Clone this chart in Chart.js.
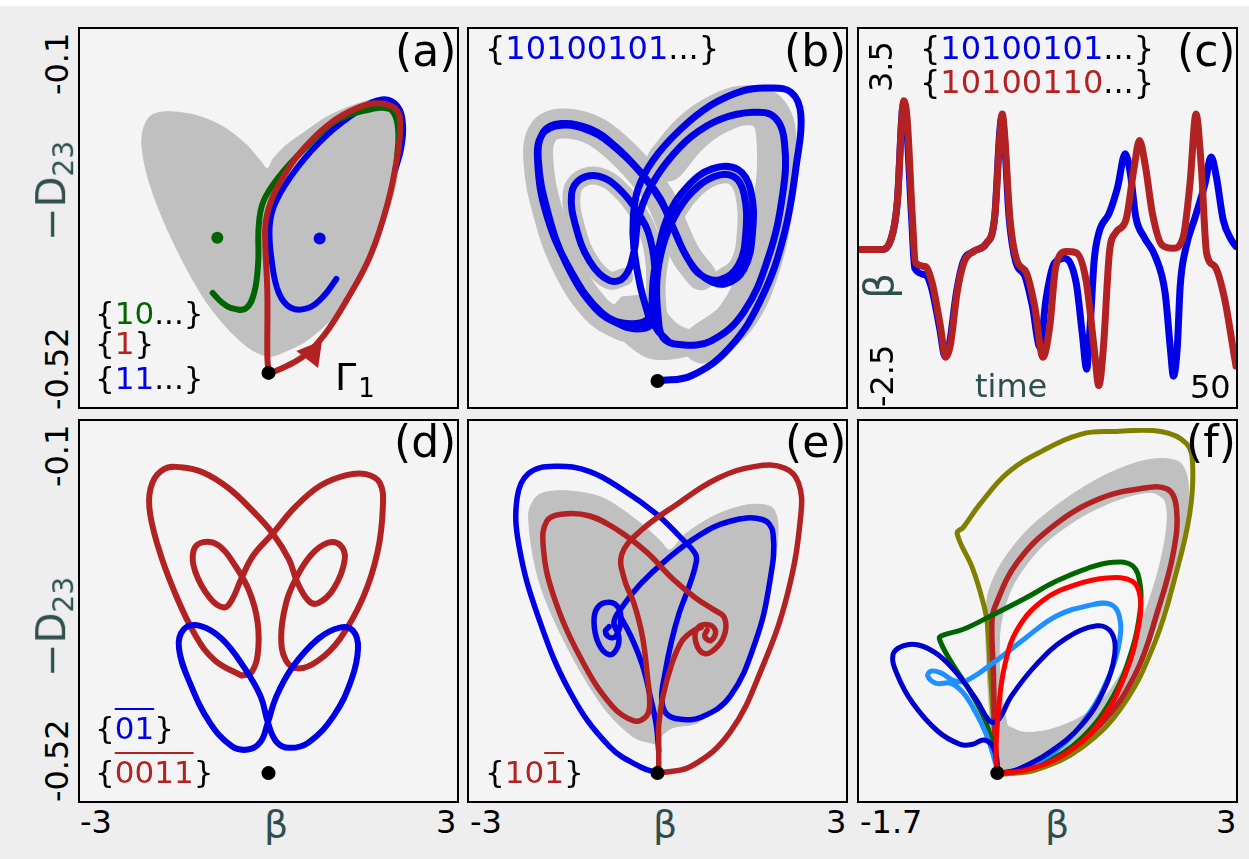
<!DOCTYPE html>
<html lang="en">
<head>
<meta charset="UTF-8" />
<title>Symbolic orbits</title>
<script src="https://cdn.jsdelivr.net/npm/chart.js"></script>
<style>
  body { margin: 0; width: 1249px; height: 859px; background: #eeeeee; position: relative; overflow: hidden; font-family: "DejaVu Sans", sans-serif; }
  .topband { position: absolute; left: 0; top: 0; width: 1249px; height: 6px; background: #fff; }
  .panel { position: absolute; border: 2px solid #000; background: #f4f4f4; }
  .panel canvas { display: block; }
  .t { position: absolute; white-space: nowrap; line-height: 1; color: #000; }
</style>
</head>
<body>
<div class="topband"></div>
<script>
// colours
const RED = '#b22222', BLUE = '#0000e6', GREEN = '#006400', GRAY = '#c0c0c0', SLATE = '#2f4f4f';
const OLIVE = '#808000', BRIGHT = '#ff0000', SKY = '#1e90ff', NAVY = '#0000cd';

// tick labels
const betaTicks = ['-3', '3'];
const betaTicksF = ['-1.7', '3'];
const dTicks = ['-0.1', '-0.52'];
const cTicks = ['3.5', '-2.5'];
const cTimeTick = '50';

// ---- (a) [beta, -D23]
const aGray = [[0.08,-0.238],[0.30,-0.222],[0.60,-0.207],[1.02,-0.187],[1.56,-0.171],[1.97,-0.165],[2.24,-0.174],[2.35,-0.191],[2.32,-0.224],[2.19,-0.276],[1.92,-0.334],[1.56,-0.386],[1.13,-0.430],[0.66,-0.459],[0.29,-0.472],[0.02,-0.478],[-0.29,-0.470],[-0.66,-0.448],[-1.08,-0.412],[-1.51,-0.360],[-1.88,-0.304],[-2.10,-0.260],[-2.20,-0.224],[-2.18,-0.203],[-2.05,-0.186],[-1.77,-0.181],[-1.29,-0.185],[-0.82,-0.198],[-0.40,-0.220],[-0.15,-0.240],[-0.02,-0.250],[0.08,-0.238]];
const aRed = [[0,-0.498],[-0.02,-0.478],[-0.02,-0.401],[-0.06,-0.327],[-0.02,-0.304],[0.13,-0.276],[0.50,-0.235],[1.02,-0.198],[1.56,-0.176],[1.97,-0.171],[2.24,-0.180],[2.29,-0.202],[2.24,-0.235],[2.08,-0.290],[1.77,-0.356],[1.34,-0.412],[0.97,-0.452],[0.66,-0.475],[0.34,-0.489],[0.07,-0.497],[0,-0.498]];
const aGreen = [[-0.97,-0.401],[-0.82,-0.412],[-0.66,-0.419],[-0.40,-0.420],[-0.25,-0.401],[-0.18,-0.364],[-0.17,-0.320],[-0.09,-0.290],[0.18,-0.260],[0.61,-0.227],[1.13,-0.194],[1.65,-0.180],[2.08,-0.177],[2.21,-0.187],[2.26,-0.209],[2.23,-0.240]];
const aBlue = [[1.18,-0.384],[0.97,-0.404],[0.70,-0.419],[0.39,-0.419],[0.18,-0.401],[0.06,-0.364],[0.02,-0.320],[0.13,-0.290],[0.50,-0.249],[1.02,-0.209],[1.56,-0.180],[1.97,-0.166],[2.24,-0.174],[2.34,-0.198],[2.30,-0.228],[2.20,-0.252]];
const aFixedL = [-0.89,-0.334], aFixedR = [0.89,-0.335], origin = [0,-0.498], aArrow = [0.76,-0.474];

// ---- (b)
const bOuterR = [[0.01,-0.498],[0.56,-0.492],[1.20,-0.459],[1.73,-0.401],[2.10,-0.327],[2.30,-0.246],[2.37,-0.191],[2.21,-0.165],[1.83,-0.160],[1.42,-0.163],[0.88,-0.180],[0.36,-0.209],[-0.07,-0.243],[-0.32,-0.276],[-0.40,-0.309],[-0.39,-0.345],[-0.28,-0.390],[-0.15,-0.423],[-0.12,-0.434]];
const bOuterL = [[-0.36,-0.438],[-0.59,-0.434],[-1.02,-0.415],[-1.50,-0.364],[-1.81,-0.304],[-1.97,-0.243],[-1.89,-0.211],[-1.59,-0.201],[-1.12,-0.207],[-0.70,-0.227],[-0.28,-0.257],[0.04,-0.287],[0.25,-0.320],[0.47,-0.353],[0.72,-0.376]];
const bInnerR = [[1.04,-0.381],[1.34,-0.364],[1.46,-0.327],[1.43,-0.282],[1.26,-0.262],[0.94,-0.262],[0.56,-0.281],[0.28,-0.309],[0.09,-0.342],[-0.01,-0.382],[0.01,-0.423],[0.09,-0.448],[0.36,-0.456]];
const bMidR = [[0.88,-0.452],[1.42,-0.419],[1.83,-0.356],[2.07,-0.282],[2.10,-0.224],[1.94,-0.194],[1.58,-0.188],[1.04,-0.196],[0.56,-0.216],[0.15,-0.246],[-0.15,-0.279],[-0.32,-0.312],[-0.39,-0.349]];
const bInnerL = [[-0.55,-0.378],[-0.80,-0.382],[-1.12,-0.360],[-1.35,-0.320],[-1.42,-0.282],[-1.27,-0.265],[-0.96,-0.262],[-0.64,-0.276],[-0.32,-0.304],[-0.12,-0.334],[-0.04,-0.378],[-0.12,-0.423],[-0.44,-0.432]];
const bOuterL2 = [[-0.91,-0.420],[-1.44,-0.370],[-1.83,-0.307],[-1.98,-0.246],[-1.91,-0.214],[-1.59,-0.203],[-1.10,-0.210],[-0.66,-0.231],[-0.25,-0.260],[0.06,-0.291],[0.29,-0.326],[0.51,-0.358],[0.80,-0.380]];
const bInnerR2 = [[1.12,-0.386],[1.43,-0.369],[1.57,-0.327],[1.54,-0.278],[1.33,-0.254],[0.91,-0.253],[0.49,-0.274],[0.18,-0.307],[0.02,-0.345],[-0.08,-0.390],[-0.04,-0.434],[0.17,-0.452]];
const bGrayR = [[0.75,-0.455],[1.30,-0.425],[1.70,-0.365],[1.92,-0.290],[1.97,-0.225],[1.85,-0.190],[1.50,-0.180],[1.00,-0.190],[0.55,-0.212],[0.15,-0.245]];
const bGrayBottom = [[-0.59,-0.401],[-0.12,-0.401],[0.36,-0.434],[0.99,-0.450],[0.51,-0.469],[-0.12,-0.472],[-0.59,-0.450],[-0.83,-0.423],[-0.59,-0.401]];

// ---- (c) [time, beta]
const cBlue = [[0,0.0],[2.9,0.0],[4.2,0.15],[5.1,0.78],[5.7,2.15],[5.9,2.3],[6.3,2.0],[7.0,0.45],[7.4,-0.3],[8.8,-0.4],[9.6,-0.6],[10.7,-1.25],[11.4,-1.7],[12.0,-1.5],[12.9,-0.7],[13.8,-0.2],[15.2,-0.03],[16.9,0.10],[18.0,0.52],[18.65,1.84],[18.95,2.12],[19.25,1.84],[19.9,0.52],[20.8,-0.2],[22.0,-0.42],[23.0,-0.9],[24.0,-1.55],[24.8,-0.79],[25.7,-0.27],[26.6,-0.16],[27.2,-0.14],[28.8,-0.53],[29.6,-1.32],[30.2,-1.90],[30.6,-1.32],[31.2,-0.16],[31.8,0.26],[33.2,0.58],[34.3,0.99],[35.3,1.52],[36.0,1.20],[36.7,0.52],[37.8,0.20],[39.3,-0.11],[40.6,-0.69],[41.3,-1.58],[41.7,-2.01],[42.2,-1.58],[42.6,-0.58],[43.3,0.0],[44.6,0.52],[45.9,1.05],[46.7,1.47],[47.4,1.15],[48.3,0.47],[49.4,0.15],[50,0.05]];
const cRed = [[0,0.0],[2.9,0.0],[4.2,0.15],[5.1,0.78],[5.75,2.21],[5.96,2.36],[6.4,2.05],[7.07,0.52],[7.5,-0.21],[8.8,-0.27],[9.7,-0.53],[10.8,-1.22],[11.5,-1.71],[12.1,-1.53],[13.0,-0.69],[13.9,-0.21],[15.2,-0.03],[16.9,0.10],[18.0,0.52],[18.7,1.84],[19.0,2.15],[19.3,1.84],[20.0,0.52],[20.9,-0.16],[22.2,-0.37],[23.3,-0.90],[24.4,-1.71],[25.3,-1.22],[26.1,-0.27],[27.5,-0.03],[28.8,-0.05],[30.1,-0.48],[31.2,-1.58],[31.8,-2.16],[32.4,-1.58],[33.2,-0.06],[34.0,0.26],[35.4,0.47],[36.5,1.31],[37.2,1.73],[38.0,1.31],[38.9,0.58],[40.2,0.07],[41.7,0.02],[43.0,0.20],[43.9,1.05],[44.7,2.15],[45.4,1.31],[46.1,-0.06],[47.2,-0.27],[48.5,-0.79],[49.8,-1.71],[50,-1.85]];

// ---- (d)
const dRed = [[-0.45,-0.384],[-0.88,-0.367],[-1.20,-0.339],[-1.56,-0.287],[-1.83,-0.235],[-1.97,-0.191],[-1.92,-0.163],[-1.72,-0.147],[-1.45,-0.145],[-1.08,-0.151],[-0.66,-0.169],[-0.25,-0.196],[0.07,-0.221],[0.34,-0.251],[0.47,-0.276],[0.66,-0.298],[0.82,-0.301],[1.08,-0.284],[1.26,-0.251],[1.18,-0.234],[0.97,-0.232],[0.70,-0.246],[0.45,-0.273],[0.29,-0.301],[0.21,-0.339],[0.29,-0.367],[0.50,-0.376],[0.82,-0.367],[1.18,-0.342],[1.56,-0.295],[1.80,-0.243],[1.89,-0.191],[1.84,-0.163],[1.61,-0.153],[1.29,-0.154],[0.86,-0.166],[0.45,-0.190],[0.07,-0.221],[-0.25,-0.246],[-0.45,-0.273],[-0.61,-0.298],[-0.74,-0.306],[-0.97,-0.295],[-1.21,-0.265],[-1.24,-0.241],[-1.08,-0.231],[-0.82,-0.235],[-0.56,-0.257],[-0.32,-0.287],[-0.18,-0.323],[-0.18,-0.361],[-0.29,-0.381],[-0.45,-0.384]];
const dBlue = [[-0.01,-0.438],[-0.13,-0.460],[-0.34,-0.469],[-0.61,-0.465],[-0.97,-0.438],[-1.29,-0.394],[-1.48,-0.353],[-1.40,-0.331],[-1.13,-0.327],[-0.77,-0.342],[-0.40,-0.375],[-0.13,-0.408],[-0.01,-0.438],[0.13,-0.460],[0.34,-0.467],[0.66,-0.461],[1.08,-0.430],[1.37,-0.389],[1.48,-0.353],[1.40,-0.333],[1.18,-0.329],[0.82,-0.342],[0.39,-0.375],[0.13,-0.408],[-0.01,-0.438]];
const dOrigin = [0,-0.496];

// ---- (e)
const eGray = [[-0.01,-0.463],[-0.39,-0.455],[-0.91,-0.419],[-1.54,-0.345],[-1.97,-0.273],[-2.13,-0.199],[-1.97,-0.177],[-1.54,-0.172],[-0.91,-0.180],[-0.32,-0.207],[0.04,-0.229],[0.20,-0.240],[0.47,-0.221],[0.99,-0.199],[1.51,-0.188],[1.89,-0.191],[1.99,-0.210],[1.94,-0.254],[1.67,-0.328],[1.26,-0.400],[0.67,-0.438],[0.25,-0.444],[0.04,-0.455],[-0.01,-0.463]];
const eBlue1 = [[0.02,-0.496],[-0.28,-0.489],[-0.80,-0.465],[-1.43,-0.405],[-1.97,-0.317],[-2.29,-0.235],[-2.32,-0.180],[-2.13,-0.152],[-1.70,-0.144],[-1.12,-0.150],[-0.55,-0.172],[-0.01,-0.199],[0.36,-0.224],[0.63,-0.245],[0.63,-0.257],[0.51,-0.284],[0.36,-0.312],[0.23,-0.345],[0.12,-0.383],[0.07,-0.411],[0.15,-0.428],[0.36,-0.434],[0.72,-0.432],[1.20,-0.408],[1.62,-0.345],[1.85,-0.279],[1.91,-0.221],[1.73,-0.205],[1.20,-0.207],[0.67,-0.224],[0.15,-0.251],[-0.28,-0.279],[-0.59,-0.306],[-0.72,-0.323],[-0.64,-0.339],[-0.67,-0.353],[-0.80,-0.360],[-0.97,-0.348],[-1.05,-0.323],[-0.99,-0.306],[-0.80,-0.300],[-0.64,-0.307],[-0.61,-0.323],[-0.69,-0.339],[-0.80,-0.340],[-0.86,-0.333],[-0.80,-0.328]];
const eBlue2 = [[-0.64,-0.313],[-0.44,-0.339],[-0.25,-0.372],[-0.12,-0.408],[-0.02,-0.441],[0.02,-0.471]];
const eRed1 = [[0.02,-0.496],[0.56,-0.488],[1.20,-0.449],[1.73,-0.375],[2.15,-0.290],[2.37,-0.199],[2.33,-0.163],[2.10,-0.146],[1.62,-0.144],[0.99,-0.158],[0.31,-0.188],[-0.28,-0.218],[-0.59,-0.245],[-0.55,-0.273],[-0.39,-0.301],[-0.25,-0.339],[-0.17,-0.383],[-0.13,-0.419],[-0.20,-0.432],[-0.39,-0.436],[-0.75,-0.419],[-1.27,-0.364],[-1.73,-0.290],[-1.89,-0.235],[-1.83,-0.207],[-1.59,-0.199],[-1.12,-0.201],[-0.64,-0.218],[-0.17,-0.243],[0.25,-0.273],[0.63,-0.295],[0.94,-0.309],[1.10,-0.317],[1.12,-0.334],[0.99,-0.351],[0.78,-0.359],[0.63,-0.345],[0.67,-0.329],[0.86,-0.326],[0.96,-0.334],[0.88,-0.344],[0.78,-0.339],[0.82,-0.332]];
const eRed2 = [[0.02,-0.496],[0.02,-0.455],[0.02,-0.441],[0.09,-0.408],[0.23,-0.372],[0.40,-0.345],[0.59,-0.333],[0.72,-0.329]];

// ---- (f)
const fGrayOuter = [[0.02,-0.495],[-0.07,-0.456],[-0.13,-0.382],[-0.15,-0.316],[-0.11,-0.287],[0.06,-0.254],[0.39,-0.217],[0.84,-0.184],[1.33,-0.157],[1.79,-0.140],[2.12,-0.135],[2.37,-0.140],[2.47,-0.162],[2.45,-0.206],[2.30,-0.261],[2.08,-0.324],[1.79,-0.382],[1.46,-0.426],[1.05,-0.463],[0.59,-0.487],[0.18,-0.495],[0.02,-0.495]];
const fGrayHole = [[0.14,-0.441],[0.08,-0.412],[0.04,-0.368],[0.06,-0.324],[0.22,-0.280],[0.59,-0.236],[1.09,-0.203],[1.58,-0.183],[1.99,-0.175],[2.16,-0.184],[2.18,-0.214],[2.08,-0.261],[1.91,-0.309],[1.71,-0.360],[1.42,-0.404],[1.09,-0.430],[0.68,-0.445],[0.34,-0.448],[0.14,-0.441]];
const fOlive = [[0.01,-0.496],[-0.03,-0.456],[-0.09,-0.382],[-0.13,-0.324],[-0.19,-0.298],[-0.32,-0.261],[-0.52,-0.221],[-0.44,-0.214],[-0.23,-0.188],[0.14,-0.151],[0.59,-0.126],[1.09,-0.107],[1.50,-0.104],[2.12,-0.104],[2.45,-0.118],[2.53,-0.144],[2.49,-0.199],[2.32,-0.265],[2.04,-0.346],[1.62,-0.419],[1.09,-0.467],[0.51,-0.492],[0.10,-0.497],[0.01,-0.496]];
const fDarkRed = [[0.01,-0.496],[-0.03,-0.456],[-0.05,-0.382],[-0.07,-0.324],[-0.03,-0.305],[0.26,-0.254],[0.76,-0.210],[1.33,-0.181],[1.83,-0.170],[2.20,-0.170],[2.32,-0.192],[2.28,-0.243],[2.08,-0.309],[1.79,-0.382],[1.33,-0.441],[0.76,-0.478],[0.26,-0.494],[0.01,-0.496]];
const fGreen = [[0.01,-0.496],[-0.03,-0.474],[-0.15,-0.437],[-0.36,-0.401],[-0.60,-0.368],[-0.75,-0.342],[-0.71,-0.338],[-0.44,-0.331],[-0.07,-0.315],[0.35,-0.296],[0.76,-0.276],[1.17,-0.261],[1.50,-0.254],[1.75,-0.258],[1.85,-0.280],[1.85,-0.309],[1.75,-0.353],[1.50,-0.408],[1.09,-0.456],[0.59,-0.485],[0.14,-0.495]];
const fRed = [[0.01,-0.496],[-0.02,-0.478],[0.02,-0.419],[0.10,-0.371],[0.26,-0.331],[0.59,-0.298],[1.01,-0.280],[1.42,-0.272],[1.75,-0.276],[1.85,-0.294],[1.83,-0.327],[1.66,-0.382],[1.33,-0.437],[0.88,-0.474],[0.39,-0.492],[0.03,-0.496]];
const fSky = [[0.01,-0.496],[-0.07,-0.470],[-0.15,-0.450],[-0.27,-0.428],[-0.44,-0.404],[-0.60,-0.393],[-0.79,-0.393],[-0.90,-0.385],[-0.86,-0.379],[-0.73,-0.381],[-0.56,-0.390],[-0.40,-0.390],[-0.03,-0.368],[0.35,-0.342],[0.76,-0.316],[1.17,-0.304],[1.46,-0.302],[1.58,-0.316],[1.58,-0.346],[1.46,-0.382],[1.17,-0.430],[0.76,-0.470],[0.30,-0.491],[0.03,-0.496]];
const fNavy = [[0.01,-0.496],[-0.05,-0.467],[-0.17,-0.458],[-0.32,-0.463],[-0.48,-0.463],[-0.77,-0.448],[-1.10,-0.415],[-1.30,-0.382],[-1.35,-0.360],[-1.22,-0.350],[-1.02,-0.349],[-0.77,-0.360],[-0.52,-0.382],[-0.27,-0.412],[-0.09,-0.437],[0.02,-0.434],[0.18,-0.408],[0.51,-0.371],[0.88,-0.342],[1.29,-0.327],[1.48,-0.335],[1.52,-0.360],[1.38,-0.401],[1.09,-0.441],[0.68,-0.472],[0.26,-0.492],[0.03,-0.496]];

Chart.defaults.animation = false;

function pts(arr) { return arr.map(p => ({ x: p[0], y: p[1] })); }
function curve(arr, color, width, more) {
  return Object.assign({ data: pts(arr), borderColor: color, borderWidth: width, pointRadius: 0,
    tension: 0.4, fill: false, borderCapStyle: 'round', borderJoinStyle: 'round' }, more || {});
}
function blob(arr, color) {
  return { data: pts(arr), borderColor: color, borderWidth: 1, backgroundColor: color,
    fill: 'shape', pointRadius: 0, tension: 0.3 };
}
function dot(p, color, r, more) {
  return Object.assign({ data: pts([p]), showLine: false, pointRadius: r, pointBackgroundColor: color,
    pointBorderWidth: 0, pointBorderColor: color }, more || {});
}

// layers are listed bottom to top
function panel(left, top, w, h, xr, yr, layers) {
  const div = document.createElement('div');
  div.className = 'panel';
  div.style.left = left + 'px';
  div.style.top = top + 'px';
  div.style.width = w + 'px';
  div.style.height = h + 'px';
  const cv = document.createElement('canvas');
  cv.width = w; cv.height = h;
  div.appendChild(cv);
  document.body.appendChild(div);
  new Chart(cv, {
    type: 'line',
    data: { datasets: layers.slice().reverse() },
    options: {
      responsive: false,
      events: [],
      layout: { padding: 0 },
      plugins: { legend: { display: false }, tooltip: { enabled: false } },
      scales: {
        x: { type: 'linear', min: xr[0], max: xr[1], display: false },
        y: { type: 'linear', min: yr[0], max: yr[1], display: false }
      }
    }
  });
}

const BR = [-3, 3], DR = [-0.52, -0.1];

panel(78, 27, 377, 378, BR, DR, [
  blob(aGray, GRAY),
  curve(aBlue, BLUE, 6),
  curve(aGreen, GREEN, 6),
  curve(aRed, RED, 6),
  dot(aArrow, RED, 16, { pointStyle: 'triangle', rotation: 38 }),
  dot(aFixedL, GREEN, 6),
  dot(aFixedR, BLUE, 6),
  dot(origin, '#000', 7)
]);

panel(467, 27, 377, 378, BR, DR, [
  blob(bGrayBottom, GRAY),
  curve(bOuterL, GRAY, 30),
  curve(bGrayR, GRAY, 40),
  curve(bInnerL, GRAY, 18),
  curve(bInnerR, GRAY, 18),
  curve([].concat(bOuterR, bOuterL, bInnerR, bMidR, bInnerL, bOuterL2, bInnerR2), BLUE, 7),
  dot(origin, '#000', 7)
]);

panel(857, 27, 377, 378, [0, 50], [-2.5, 3.5], [
  curve(cBlue, BLUE, 7, { cubicInterpolationMode: 'monotone' }),
  curve(cRed, RED, 7, { cubicInterpolationMode: 'monotone' })
]);

panel(78, 419, 377, 380, BR, DR, [
  curve(dRed, RED, 6),
  curve(dBlue, BLUE, 6),
  dot(dOrigin, '#000', 7)
]);

panel(467, 419, 377, 380, BR, DR, [
  blob(eGray, GRAY),
  curve(eBlue2, BLUE, 5.5),
  curve(eBlue1, BLUE, 5.5),
  curve(eRed2, RED, 5.5),
  curve(eRed1, RED, 5.5),
  dot(dOrigin, '#000', 7)
]);

panel(857, 419, 377, 380, [-1.7, 3], DR, [
  blob(fGrayOuter, GRAY),
  blob(fGrayHole, '#f6f6f6'),
  curve(fOlive, OLIVE, 5),
  curve(fDarkRed, RED, 5.5),
  curve(fGreen, GREEN, 5),
  curve(fSky, SKY, 5),
  curve(fNavy, NAVY, 5),
  curve(fRed, BRIGHT, 5),
  dot(dOrigin, '#000', 7)
]);

// ---- text
const OVER = 'text-decoration:overline;text-decoration-thickness:2px;';
const SUB = 'font-size:28px;position:relative;top:8px;';
function label(x, y, size, parts, opt) {
  opt = opt || {};
  const el = document.createElement('div');
  el.className = 't';
  el.style.fontSize = size + 'px';
  parts.forEach(p => {
    const s = document.createElement('span');
    s.textContent = p[0];
    if (p[1]) s.style.color = p[1];
    if (p[2]) s.style.cssText += p[2];
    el.appendChild(s);
  });
  document.body.appendChild(el);
  const base = 0.846 * size;
  let left = x;
  if (opt.align === 'right') left = x - el.offsetWidth;
  if (opt.align === 'center') left = x - el.offsetWidth / 2;
  el.style.left = left + 'px';
  el.style.top = (y - base) + 'px';
  if (opt.rotate) {
    el.style.transformOrigin = '0 ' + base + 'px';
    el.style.transform = 'rotate(-90deg)';
  }
}

// y axes, rows
[0, 392].forEach((dy, i) => {
  label(68, 95 + dy, 32, [[dTicks[0]]], { rotate: true });
  label(68, 410 + dy, 32, [[dTicks[1]]], { rotate: true });
  label(65, i ? 677 : 241, 40, [['−D', SLATE], ['23', SLATE, SUB]], { rotate: true });
});
// (c) axes
label(892, 92, 32, [[cTicks[0]]], { rotate: true });
label(893, 407, 32, [[cTicks[1]]], { rotate: true });
label(893, 299, 40, [['β', SLATE]], { rotate: true });
label(975, 397, 32, [['time', SLATE]]);
label(1231, 398, 32, [[cTimeTick]], { align: 'right' });
// bottom x axes
label(80, 833, 32, [[betaTicks[0]]]);
label(456, 833, 32, [[betaTicks[1]]], { align: 'right' });
label(470, 833, 32, [[betaTicks[0]]]);
label(846, 833, 32, [[betaTicks[1]]], { align: 'right' });
label(860, 833, 32, [[betaTicksF[0]]]);
label(1236, 833, 32, [[betaTicksF[1]]], { align: 'right' });
[276, 665, 1057].forEach(x => label(x, 837, 38, [['β', SLATE]], { align: 'center' }));

// panel letters
label(456, 66, 44, [['(a)']], { align: 'right' });
label(846, 66, 44, [['(b)']], { align: 'right' });
label(1236, 66, 44, [['(c)']], { align: 'right' });
label(456, 457, 44, [['(d)']], { align: 'right' });
label(846, 457, 44, [['(e)']], { align: 'right' });
label(1236, 457, 44, [['(f)']], { align: 'right' });

// symbol sequences
label(95, 324, 31, [['{'], ['10', GREEN], ['...}']]);
label(95, 354, 31, [['{'], ['1', RED], ['}']]);
label(95, 389, 31, [['{'], ['11', BLUE], ['...}']]);
label(335, 390, 38, [['Γ'], ['1', null, 'font-size:26px;position:relative;top:7px;margin-left:2px;']]);
label(485, 59, 32, [['{'], ['10100101', BLUE], ['...}']]);
label(920, 59, 32, [['{'], ['10100101', BLUE], ['...}']]);
label(920, 93, 32, [['{'], ['10100110', RED], ['...}']]);
label(95, 739, 31, [['{'], ['01', BLUE, OVER], ['}']]);
label(95, 783, 31, [['{'], ['0011', RED, OVER], ['}']]);
label(485, 783, 31, [['{'], ['10', RED], ['1', RED, OVER], ['}']]);
</script>
</body>
</html>
